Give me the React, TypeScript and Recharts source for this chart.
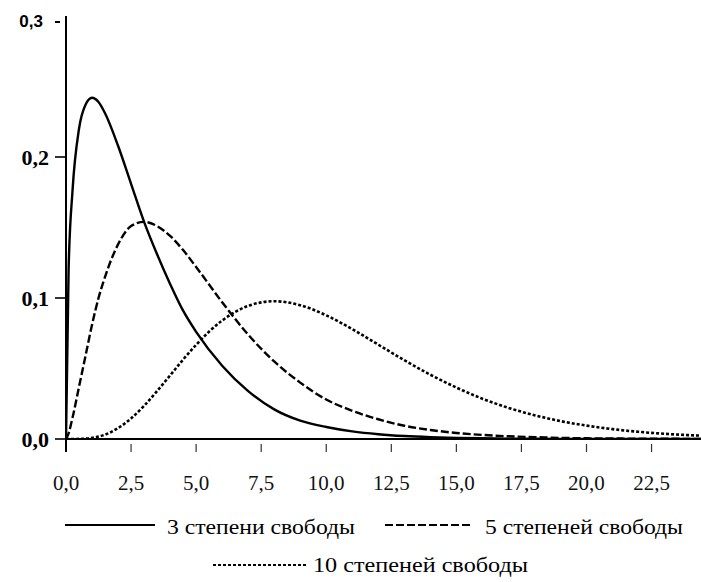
import React from 'react';
import { LineChart, Line, XAxis, YAxis } from 'recharts';

// x values (chi-square) and density
const xPoints = [0, 0.1, 0.25, 0.5, 0.75, 1, 1.25, 1.5, 2, 2.5, 3, 3.5, 4, 4.5, 5, 6, 7, 8, 9, 10, 11, 12, 13, 14, 15, 16, 17, 18, 19, 20, 21, 22, 23, 24, 24.4];
const df3 = [0, 0.12, 0.176, 0.22, 0.237, 0.242, 0.239, 0.231, 0.208, 0.181, 0.154, 0.131, 0.11, 0.091, 0.076, 0.052, 0.034, 0.021, 0.013, 0.0085, 0.0054, 0.0034, 0.0021, 0.0013, 0.0008, 0.0005, 0.0003, 0.0002, 0.0001, 0.0001, 0, 0, 0, 0, 0];
const df5 = [0, 0.004, 0.015, 0.037, 0.059, 0.081, 0.1, 0.115, 0.138, 0.151, 0.154, 0.151, 0.144, 0.134, 0.122, 0.097, 0.074, 0.055, 0.04, 0.028, 0.02, 0.014, 0.0094, 0.0064, 0.0043, 0.0029, 0.0019, 0.0013, 0.0008, 0.0005, 0.0004, 0.0002, 0.0002, 0.0001, 0.0001];
const df10 = [0, 0, 0, 0.0001, 0.0003, 0.0008, 0.0017, 0.0031, 0.0077, 0.0146, 0.0235, 0.034, 0.0451, 0.0563, 0.0668, 0.084, 0.0944, 0.0977, 0.0949, 0.0877, 0.0779, 0.0669, 0.0559, 0.0456, 0.0365, 0.0286, 0.0221, 0.0169, 0.0127, 0.0095, 0.007, 0.0051, 0.0037, 0.0027, 0.0024];

const xTicks = [0, 2.5, 5, 7.5, 10, 12.5, 15, 17.5, 20, 22.5];
const yTicks = [0, 0.1, 0.2, 0.3];

const legendLabels = ['3 степени свободы', '5 степеней свободы', '10 степеней свободы'];

const data = xPoints.map((x, i) => ({ x, df3: df3[i], df5: df5[i], df10: df10[i] }));

const fmt = (v: number) => v.toFixed(1).replace('.', ',');

const serif = 'Liberation Serif, Times New Roman, serif';
const sans = 'Liberation Sans, Arial, sans-serif';

const XTick = ({ x, y, payload }: any) => {
  const v = payload.value;
  return (
    <g>
      {v === 0 ? (
        <line x1={x} x2={x} y1={y} y2={y + 13} stroke="#000" strokeWidth={2} />
      ) : (
        <line x1={x} x2={x} y1={y + 5} y2={y + 13} stroke="#333" strokeWidth={1.2} />
      )}
      <text x={x} y={y + 51} textAnchor="middle" style={{ fontFamily: serif, fontSize: 21 }} fill="#111">
        {fmt(v)}
      </text>
    </g>
  );
};

const YTick = ({ x, y, payload }: any) => {
  const v = payload.value;
  if (v === 0.3) {
    // top label is set in a bold sans face in the original
    return (
      <g>
        <text x={x - 23} y={y + 11} textAnchor="end" style={{ fontFamily: sans, fontWeight: 'bold', fontSize: 17 }} fill="#000">
          0,3
        </text>
        <line x1={x - 11} x2={x - 6} y1={y + 6} y2={y + 6} stroke="#000" strokeWidth={2} />
      </g>
    );
  }
  return (
    <g>
      <line x1={x - 11} x2={x} y1={y} y2={y} stroke="#000" strokeWidth={1.6} />
      <text x={x - 17} y={y + 8} textAnchor="end" style={{ fontFamily: serif, fontWeight: 'bold', fontSize: 22 }} fill="#000">
        {fmt(v)}
      </text>
    </g>
  );
};

export default function App() {
  return (
    <div style={{ position: 'absolute', left: 0, top: 0, width: 701, height: 582, background: '#fff' }}>
      <LineChart width={701} height={582} data={data} margin={{ top: 16, right: 0, bottom: 0, left: 0 }}>
        <XAxis
          type="number"
          dataKey="x"
          domain={[0, 24.4]}
          ticks={xTicks}
          allowDataOverflow
          height={143}
          axisLine={{ stroke: '#000', strokeWidth: 2 }}
          tickLine={false}
          tickSize={0}
          tickMargin={0}
          tick={<XTick />}
          interval={0}
        />
        <YAxis
          type="number"
          domain={[0, 0.3]}
          ticks={yTicks}
          allowDataOverflow
          width={66}
          axisLine={{ stroke: '#000', strokeWidth: 2 }}
          tickLine={false}
          tickSize={0}
          tickMargin={0}
          tick={<YTick />}
          interval={0}
        />
        <Line type="monotone" dataKey="df3" stroke="#000" strokeWidth={2.4} dot={false} isAnimationActive={false} />
        <Line type="monotone" dataKey="df5" stroke="#000" strokeWidth={2.4} strokeDasharray="8 3" dot={false} isAnimationActive={false} />
        <Line type="monotone" dataKey="df10" stroke="#000" strokeWidth={2.6} strokeDasharray="3 2" dot={false} isAnimationActive={false} />
      </LineChart>

      <svg width={701} height={582} style={{ position: 'absolute', left: 0, top: 0, pointerEvents: 'none' }}>
        <line x1={65} x2={155} y1={525} y2={525} stroke="#000" strokeWidth={2} />
        <text x={167} y={534} style={{ fontFamily: serif, fontSize: 21 }} fill="#000" textLength={188} lengthAdjust="spacingAndGlyphs">
          {legendLabels[0]}
        </text>
        <line x1={385} x2={473} y1={525} y2={525} stroke="#000" strokeWidth={2} strokeDasharray="8 3" />
        <text x={485} y={534} style={{ fontFamily: serif, fontSize: 21 }} fill="#000" textLength={198} lengthAdjust="spacingAndGlyphs">
          {legendLabels[1]}
        </text>
        <line x1={213} x2={307} y1={565} y2={565} stroke="#000" strokeWidth={2} strokeDasharray="3 2" />
        <text x={313} y={572} style={{ fontFamily: serif, fontSize: 21 }} fill="#000" textLength={215} lengthAdjust="spacingAndGlyphs">
          {legendLabels[2]}
        </text>
      </svg>
    </div>
  );
}
